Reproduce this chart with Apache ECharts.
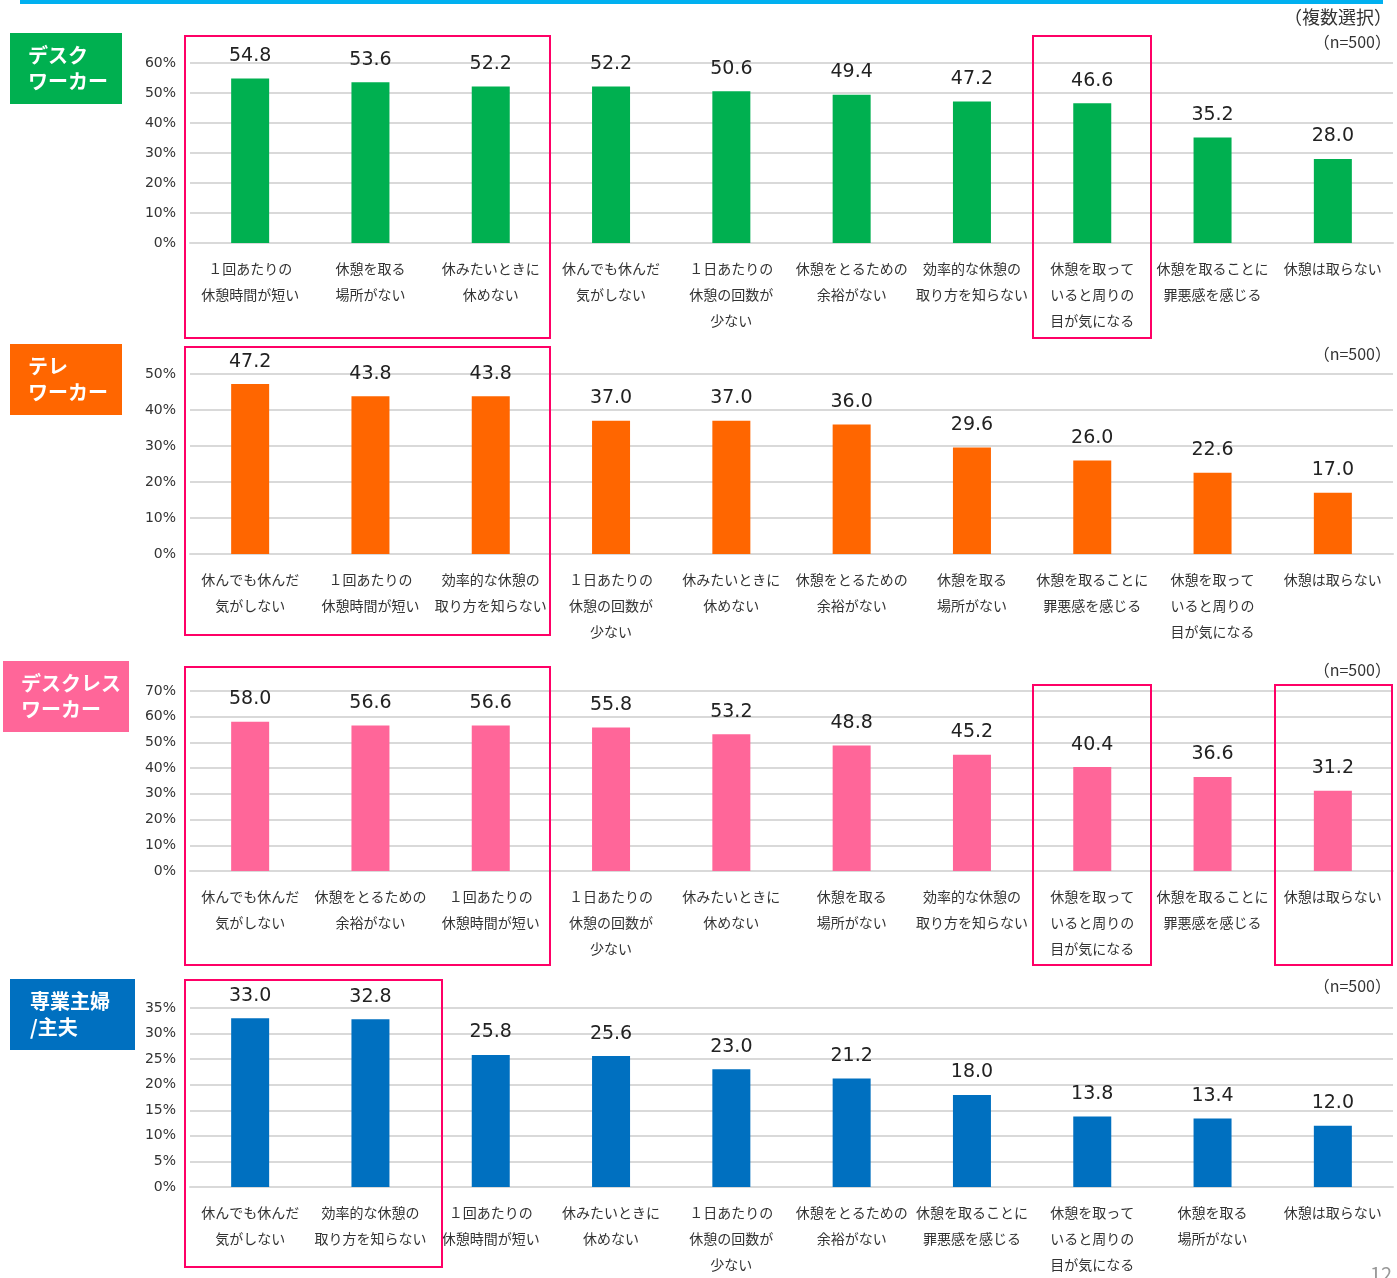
<!DOCTYPE html>
<html><head><meta charset="utf-8">
<script src="https://cdn.jsdelivr.net/npm/echarts@6/dist/echarts.min.js"></script>
<style>html,body{margin:0;padding:0;background:#fff}#c{width:1397px;height:1278px}</style>
</head><body><div id="c"></div>
<script>
const cats1 = ["１回あたりの\n休憩時間が短い","休憩を取る\n場所がない","休みたいときに\n休めない","休んでも休んだ\n気がしない","１日あたりの\n休憩の回数が\n少ない","休憩をとるための\n余裕がない","効率的な休憩の\n取り方を知らない","休憩を取って\nいると周りの\n目が気になる","休憩を取ることに\n罪悪感を感じる","休憩は取らない"];
const vals1 = [54.8,53.6,52.2,52.2,50.6,49.4,47.2,46.6,35.2,28.0];
const cats2 = ["休んでも休んだ\n気がしない","１回あたりの\n休憩時間が短い","効率的な休憩の\n取り方を知らない","１日あたりの\n休憩の回数が\n少ない","休みたいときに\n休めない","休憩をとるための\n余裕がない","休憩を取る\n場所がない","休憩を取ることに\n罪悪感を感じる","休憩を取って\nいると周りの\n目が気になる","休憩は取らない"];
const vals2 = [47.2,43.8,43.8,37.0,37.0,36.0,29.6,26.0,22.6,17.0];
const cats3 = ["休んでも休んだ\n気がしない","休憩をとるための\n余裕がない","１回あたりの\n休憩時間が短い","１日あたりの\n休憩の回数が\n少ない","休みたいときに\n休めない","休憩を取る\n場所がない","効率的な休憩の\n取り方を知らない","休憩を取って\nいると周りの\n目が気になる","休憩を取ることに\n罪悪感を感じる","休憩は取らない"];
const vals3 = [58.0,56.6,56.6,55.8,53.2,48.8,45.2,40.4,36.6,31.2];
const cats4 = ["休んでも休んだ\n気がしない","効率的な休憩の\n取り方を知らない","１回あたりの\n休憩時間が短い","休みたいときに\n休めない","１日あたりの\n休憩の回数が\n少ない","休憩をとるための\n余裕がない","休憩を取ることに\n罪悪感を感じる","休憩を取って\nいると周りの\n目が気になる","休憩を取る\n場所がない","休憩は取らない"];
const vals4 = [33.0,32.8,25.8,25.6,23.0,21.2,18.0,13.8,13.4,12.0];
const groupNames = ["デスク\nワーカー","テレ\nワーカー","デスクレス\nワーカー","専業主婦\n/主夫"];
const axisMax = [60,50,70,35];
const axisStep = [10,10,10,5];

const cats = [cats1,cats2,cats3,cats4];
const vals = [vals1,vals2,vals3,vals4];
const colors = ['#00b050','#ff6600','#ff6699','#0070c0'];
const gridTB = [[63,243],[374,554],[691,871],[1008,1189]];
const FONT = '"Noto Sans CJK JP", "Noto Sans", sans-serif';
const NUMFONT = '"DejaVu Sans", "Noto Sans", sans-serif';

const chart = echarts.init(document.getElementById('c'));
const grid=[],xAxis=[],yAxis=[],series=[];
for (let i=0;i<4;i++){
  grid.push({left:190,right:4,top:gridTB[i][0],height:gridTB[i][1]-gridTB[i][0]});
  xAxis.push({type:'category',gridIndex:i,data:cats[i],
    axisLine:{lineStyle:{color:'#d9d9d9',width:2}},axisTick:{show:false},
    axisLabel:{interval:0,margin:13,fontSize:14,lineHeight:26,color:'#333',fontFamily:FONT}});
  yAxis.push({type:'value',gridIndex:i,min:0,max:axisMax[i],interval:axisStep[i],
    axisLine:{show:false},axisTick:{show:false},
    splitLine:{lineStyle:{color:'#d9d9d9',width:2}},
    axisLabel:{formatter:'{value}%',fontSize:14,color:'#333',margin:14,fontFamily:NUMFONT}});
  series.push({type:'bar',xAxisIndex:i,yAxisIndex:i,data:vals[i],barWidth:38,
    itemStyle:{color:colors[i]},
    label:{show:true,position:'top',distance:13,fontSize:19,color:'#222',fontFamily:NUMFONT,
      formatter:p=>p.value.toFixed(1)}});
}

const graphic=[];
graphic.push({type:'rect',shape:{x:20,y:0,width:1363,height:4},style:{fill:'#00b0f0'}});
const boxes=[[10,33,112,71],[10,344,112,71],[3,661,126,71],[10,979,125,71]];
for(let i=0;i<4;i++){
  const b=boxes[i];
  graphic.push({type:'rect',shape:{x:b[0],y:b[1],width:b[2],height:b[3]},style:{fill:colors[i]}});
  graphic.push({type:'text',x:b[0]+ (i===2?18:(i===3?20:18)),y:b[1]+b[3]/2,style:{text:groupNames[i],fill:'#fff',font:'bold 20px '+FONT,lineHeight:26,verticalAlign:'middle'}});
}
graphic.push({type:'text',right:5,top:8,style:{text:'（複数選択）',fill:'#333',font:'18px '+FONT}});
const nY=[45,357,673,989];
for(const y of nY){
  graphic.push({type:'text',right:6,top:y-11,style:{text:'（n=500）',fill:'#333',font:'16px '+FONT}});
}
const hl=[[185,36,365,302],[1033,36,118,302],[185,347,365,288],[185,667,365,298],[1033,685,118,280],[1275,685,117,280],[185,980,257,287]];
for(const h of hl){
  graphic.push({type:'rect',shape:{x:h[0],y:h[1],width:h[2],height:h[3]},style:{fill:'none',stroke:'#ff0066',lineWidth:2},z:10});
}
graphic.push({type:'text',left:1370,top:1264,style:{text:'12',fill:'#999',font:'20px '+FONT}});

chart.setOption({animation:false,grid,xAxis,yAxis,series,graphic});
</script></body></html>
